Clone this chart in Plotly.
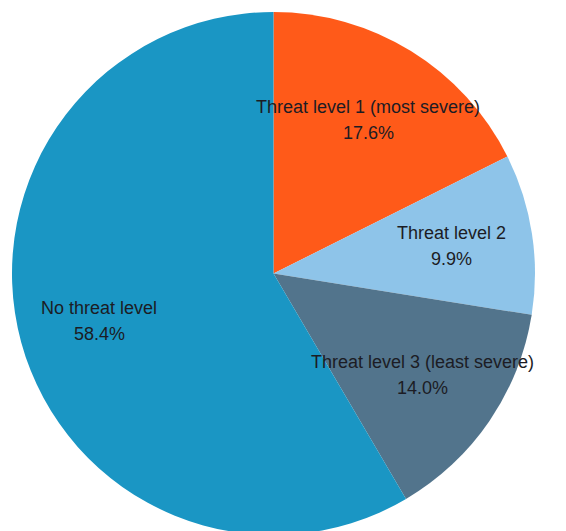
import math
import plotly.graph_objects as go

categories = ["Threat level 1 (most severe)", "Threat level 2", "Threat level 3 (least severe)", "No threat level"]
values = [17.6, 9.9, 14.0, 58.4]
colors = ["#FF5A19", "#8EC4E9", "#52748C", "#1A96C4"]

W, H = 566, 531
# page body adds an 8px offset; domain chosen so the pie sits where the reference has it
dom_x = [4 / W, 527 / W]
dom_y = [1 - 527 / H, 1 - 4 / H]

fig = go.Figure(go.Pie(
    labels=categories,
    values=values,
    sort=False,
    direction="clockwise",
    rotation=0,
    marker=dict(colors=colors, line=dict(width=0)),
    textinfo="none",
    hoverinfo="label+value",
    domain=dict(x=dom_x, y=dom_y),
    showlegend=False,
))

# label positions from the slice mid-angles (clockwise from 12 o'clock)
total = sum(values)
font = dict(family="Liberation Sans, Arial, sans-serif", size=18, color="#1c1c24")
cum = 0.0
for cat, v in zip(categories, values):
    mid = (cum + v / 2) / total * 2 * math.pi
    cum += v
    r = 0.69
    x, y = r * math.sin(mid), r * math.cos(mid)
    fig.add_annotation(x=x, y=y, xref="x", yref="y", text=cat, showarrow=False,
                       font=font, yshift=13)
    fig.add_annotation(x=x, y=y, xref="x", yref="y", text=f"{v:.1f}%",
                       showarrow=False, font=font, yshift=-13)

fig.update_layout(
    width=W, height=H,
    margin=dict(l=0, r=0, t=0, b=0),
    paper_bgcolor="white",
    plot_bgcolor="rgba(0,0,0,0)",
    xaxis=dict(domain=dom_x, range=[-1, 1], visible=False, fixedrange=True),
    yaxis=dict(domain=dom_y, range=[-1, 1], visible=False, fixedrange=True),
)
fig.write_html("out.html")
